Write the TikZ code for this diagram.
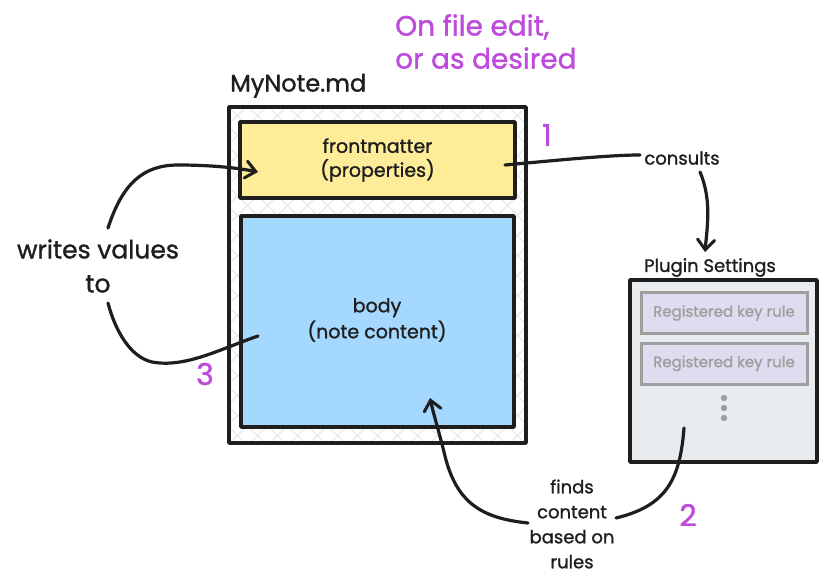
\documentclass[tikz,border=0pt]{standalone}
\usepackage{fontspec}
\setmainfont{Poppins}[FakeBold=1.2]
\usetikzlibrary{arrows.meta}
\definecolor{ink}{HTML}{1E1E1E}
\definecolor{fmyellow}{HTML}{FFEC99}
\definecolor{bodyblue}{HTML}{A5D8FF}
\definecolor{plugbg}{HTML}{E9ECEF}
\definecolor{rulebg}{HTML}{DEDCEE}
\definecolor{rulegray}{HTML}{9E9E9E}
\definecolor{violet}{HTML}{BE4BDB}
\definecolor{hatch}{HTML}{E6E9EC}
\tikzset{
  box/.style={draw=ink, line width=3.5pt, line join=round},
  rulebox/.style={draw=rulegray, fill=rulebg, line width=3pt, minimum width=166pt, minimum height=41pt, inner sep=0pt,
    font=\fontsize{15}{17}\selectfont, text=rulegray},
  conn/.style={draw=ink, line width=3.2pt, line cap=round},
  arr/.style={conn, -{Straight Barb[length=10pt,width=17pt,line width=3pt,line cap=round]}},
  lbl/.style={text=ink, align=center, inner sep=1pt},
  num/.style={text=violet, font=\fontsize{30}{32}\selectfont},
}
\begin{document}
\begin{tikzpicture}[x=1pt,y=-1pt]
\useasboundingbox (0,0) rectangle (827,585);
\fill[white] (0,0) rectangle (827,585);
% outer note box with hatch
\begin{scope}
  \clip (229,107) rectangle (526,443);
  \foreach \k in {-400,-380,...,400} {
    \draw[hatch, line width=1.3pt] (229+\k,107) -- ++(340,340);
    \draw[hatch, line width=1.3pt] (526+\k,107) -- ++(-340,340);
  }
\end{scope}
\node[box, minimum width=297pt, minimum height=336pt, inner sep=0pt] (note) at (377.5,275) {};
\node[anchor=south west, lbl, font=\fontsize{24}{26}\selectfont] (notelbl) at (229,99) {MyNote.md};
\node[box, fill=fmyellow, minimum width=275pt, minimum height=76pt, inner sep=0pt, lbl, font=\fontsize{19}{24}\selectfont] (fm) at (377.5,160) {frontmatter\\(properties)};
\node[box, fill=bodyblue, minimum width=273pt, minimum height=211pt, inner sep=0pt] (body) at (377.5,321.5) {};
\node[lbl, font=\fontsize{19}{26}\selectfont] (bodytxt) at (377,320) {body\\(note content)};
% plugin settings
\node[box, fill=plugbg, minimum width=187pt, minimum height=182pt, inner sep=0pt] (plug) at (723.5,371) {};
\node[lbl, font=\fontsize{18}{20}\selectfont, anchor=south] (pluglbl) at (710,278) {Plugin Settings};
\node[rulebox] (r1) at (724,313) {Registered key rule};
\node[rulebox] (r2) at (724,363.5) {Registered key rule};
\foreach \yy/\nm in {398/d1,408/d2,418/d3} \fill[rulegray] (724,\yy) circle (3.2pt);
% purple notes
\node[text=violet, align=left, font=\fontsize{28}{33}\selectfont, anchor=north west, inner sep=0pt] (when) at (395,14) {On file edit,\\or as desired};
\node[num] (n1) at (547,135) {1};
\node[num] (n2) at (688,515) {2};
\node[num] (n3) at (205,374) {3};
% labels
\node[lbl, font=\fontsize{18}{20}\selectfont] (consults) at (682,158) {consults};
\node[lbl, font=\fontsize{25}{34}\selectfont] (writes) at (98,266) {writes values\\to};
\node[lbl, font=\fontsize{18}{25}\selectfont] (finds) at (572,524) {finds\\content\\based on\\rules};
% connectors
\coordinate (fmR) at (505,165);
\coordinate (cBend) at (640,155);
\coordinate (plugTop) at (705,252);
\draw[conn] (fmR) .. controls (560,160) and (610,155) .. (cBend);
\coordinate (cStart) at (700,172);
\draw[arr] (cStart) .. controls (712,200) and (707,228) .. (plugTop);
\coordinate (wTop) at (108,228);
\coordinate (fmL) at (258,172);
\draw[arr] (wTop) .. controls (122,185) and (142,165) .. (178,165) .. controls (212,165) and (238,168) .. (fmL);
\coordinate (bodyL) at (258,336);
\coordinate (wBot) at (108,303);
\draw[conn] (bodyL) .. controls (218,350) and (185,368) .. (152,362) .. controls (130,357) and (115,330) .. (wBot);
\coordinate (plugIn) at (684,428);
\coordinate (fRight) at (616,518);
\draw[conn] (plugIn) .. controls (680,480) and (666,506) .. (fRight);
\coordinate (fLeft) at (528,523);
\coordinate (bodyIn) at (430,398);
\draw[arr] (fLeft) .. controls (478,518) and (455,500) .. (444,452) .. controls (439,432) and (433,412) .. (bodyIn);
\end{tikzpicture}
\end{document}
